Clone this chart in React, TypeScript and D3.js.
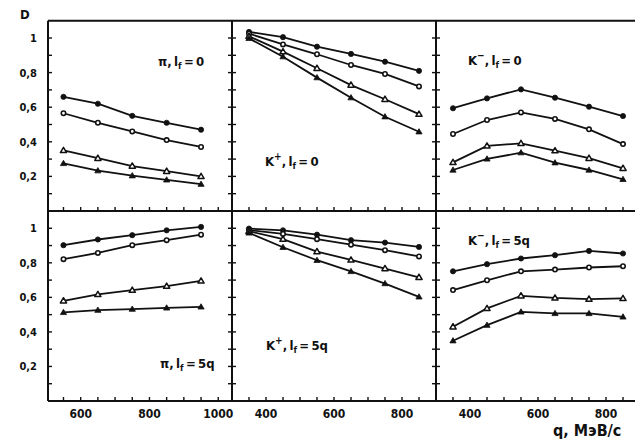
import React from 'react';
import * as d3 from 'd3';

// momentum grids (MeV/c)
const qPi = [550, 650, 750, 850, 950];
const qK = [350, 450, 550, 650, 750, 850];

// D values, four curves per panel (top to bottom)
const piL0 = [
  [0.66, 0.62, 0.55, 0.51, 0.47],
  [0.565, 0.51, 0.46, 0.41, 0.37],
  [0.35, 0.305, 0.26, 0.23, 0.20],
  [0.275, 0.233, 0.204, 0.18, 0.155],
];
const kpL0 = [
  [1.035, 1.005, 0.95, 0.908, 0.863, 0.81],
  [1.025, 0.963, 0.906, 0.844, 0.792, 0.72],
  [1.01, 0.921, 0.825, 0.728, 0.646, 0.56],
  [0.998, 0.892, 0.771, 0.655, 0.545, 0.458],
];
const kmL0 = [
  [0.594, 0.651, 0.703, 0.655, 0.603, 0.549],
  [0.445, 0.526, 0.57, 0.532, 0.472, 0.387],
  [0.281, 0.376, 0.391, 0.349, 0.305, 0.247],
  [0.237, 0.301, 0.337, 0.279, 0.237, 0.183],
];
const piL5 = [
  [0.902, 0.935, 0.96, 0.988, 1.008],
  [0.821, 0.857, 0.902, 0.931, 0.963],
  [0.58, 0.617, 0.642, 0.665, 0.695],
  [0.513, 0.526, 0.532, 0.539, 0.545],
];
const kpL5 = [
  [0.998, 0.988, 0.963, 0.931, 0.917, 0.892],
  [0.99, 0.967, 0.937, 0.905, 0.873, 0.837],
  [0.983, 0.937, 0.865, 0.817, 0.767, 0.716],
  [0.973, 0.89, 0.815, 0.75, 0.68, 0.603],
];
const kmL5 = [
  [0.751, 0.792, 0.825, 0.844, 0.869, 0.854],
  [0.642, 0.699, 0.751, 0.761, 0.773, 0.78],
  [0.43, 0.536, 0.609, 0.597, 0.59, 0.594],
  [0.349, 0.439, 0.516, 0.507, 0.507, 0.487],
];

const yTicks = [1, 0.8, 0.6, 0.4, 0.2];
const xTicksPi = [600, 800, 1000];
const xTicksK = [400, 600, 800];

const font = '"Liberation Sans Narrow", "DejaVu Sans Condensed", sans-serif';

const colX = [48, 232, 436, 640];
const rowY = [20.7, 211, 401];

const panels = [
  { col: 0, row: 0, q: qPi, data: piL0, dom: [505, 1040], p: 'π', s: '0', lx: 158, ly: 66 },
  { col: 1, row: 0, q: qK, data: kpL0, dom: [300, 900], p: 'K', sup: '+', s: '0', lx: 265, ly: 166 },
  { col: 2, row: 0, q: qK, data: kmL0, dom: [300, 900], p: 'K', sup: '−', s: '0', lx: 468, ly: 65 },
  { col: 0, row: 1, q: qPi, data: piL5, dom: [505, 1040], p: 'π', s: '5q', lx: 160, ly: 368, ticks: xTicksPi },
  { col: 1, row: 1, q: qK, data: kpL5, dom: [300, 900], p: 'K', sup: '+', s: '5q', lx: 266, ly: 350, ticks: xTicksK },
  { col: 2, row: 1, q: qK, data: kmL5, dom: [300, 900], p: 'K', sup: '−', s: '5q', lx: 468, ly: 245, ticks: xTicksK },
];

const Marker = ({ kind, x, y }: { kind: number; x: number; y: number }) => {
  if (kind < 2) {
    return <circle cx={x} cy={y} r={kind === 0 ? 2.6 : 2.2} fill={kind === 0 ? '#111' : '#fff'} stroke="#111" strokeWidth={kind === 0 ? 0.8 : 1.6} />;
  }
  const s = 3.1;
  const pts = `${x},${y - s} ${x - s},${y + s * 0.7} ${x + s},${y + s * 0.7}`;
  return <polygon points={pts} fill={kind === 3 ? '#111' : '#fff'} stroke="#111" strokeWidth={kind === 3 ? 0.8 : 1.5} strokeLinejoin="round" />;
};

const Panel = ({ cfg }: { cfg: any }) => {
  const x0 = colX[cfg.col], x1 = colX[cfg.col + 1];
  const y1 = rowY[cfg.row], y0 = rowY[cfg.row + 1];
  const x = d3.scaleLinear().domain(cfg.dom).range([x0, x1]);
  const y = d3.scaleLinear().domain([0, 1.1]).range([y0, y1]);
  const line = d3.line<number>().x((_, i) => x(cfg.q[i])).y(d => y(d));
  const xMinor = d3.range(Math.ceil(cfg.dom[0] / 50) * 50, cfg.dom[1], 50);
  const yMinor = d3.range(1, 11).map(v => v / 10);
  return (
    <g>
      {yMinor.map(v => (
        <g key={'y' + v}>
          <line x1={x0} x2={x0 + 4} y1={y(v)} y2={y(v)} stroke="#111" strokeWidth={1.4} />
          <line x1={x1 - 4} x2={x1} y1={y(v)} y2={y(v)} stroke="#111" strokeWidth={1.4} />
        </g>
      ))}
      {xMinor.map(v => (
        <line key={'x' + v} x1={x(v)} x2={x(v)} y1={y0} y2={y0 - 4} stroke="#111" strokeWidth={1.4} />
      ))}
      {cfg.data.map((s: number[], k: number) => (
        <g key={k}>
          <path d={line(s) || ''} fill="none" stroke="#111" strokeWidth={1.8} />
          {s.map((v, i) => <Marker key={i} kind={k} x={x(cfg.q[i])} y={y(v)} />)}
        </g>
      ))}
      <text x={cfg.lx} y={cfg.ly} fontFamily={font} fontWeight="bold" fontSize={13} fill="#111">
        {cfg.p}
        {cfg.sup ? <tspan dy={-6} fontSize={10}>{cfg.sup}</tspan> : null}
        <tspan dy={cfg.sup ? 6 : 0}>,{'\u2009'}l</tspan>
        <tspan dy={3} fontSize={9}>f</tspan>
        <tspan dy={-3}>{'\u2009=\u2009' + cfg.s}</tspan>
      </text>
      {cfg.ticks ? cfg.ticks.map((t: number) => (
        <text key={t} x={x(t)} y={418} textAnchor="middle" fontFamily={font} fontWeight="bold" fontSize={12} fill="#111">{t}</text>
      )) : null}
      {cfg.col === 0 ? yTicks.map(t => (
        <text key={t} x={37} y={y(t) + 4} textAnchor="end" fontFamily={font} fontWeight="bold" fontSize={11} fill="#111">
          {t === 1 ? '1' : String(t).replace('.', ',')}
        </text>
      )) : null}
    </g>
  );
};

export default function App() {
  return (
    <svg width={635} height={442} style={{ position: 'absolute', left: 0, top: 0, background: '#fff' }}>
      <rect width={635} height={442} fill="#fff" />
      {panels.map((p, i) => <Panel key={i} cfg={p} />)}
      {/* frame */}
      <g stroke="#111" strokeWidth={2} fill="none">
        <line x1={colX[0]} x2={635} y1={rowY[0]} y2={rowY[0]} />
        <line x1={colX[0]} x2={635} y1={rowY[1]} y2={rowY[1]} />
        <line x1={colX[0]} x2={635} y1={rowY[2]} y2={rowY[2]} />
        {colX.slice(0, 3).map(cx => <line key={cx} x1={cx} x2={cx} y1={rowY[0]} y2={rowY[2]} />)}
      </g>
      <text x={20} y={19} fontFamily={font} fontWeight="bold" fontSize={13} fill="#111">D</text>
      <text x={553} y={436} fontFamily={font} fontWeight="bold" fontSize={16} fill="#111">q, МэВ/с</text>
    </svg>
  );
}
